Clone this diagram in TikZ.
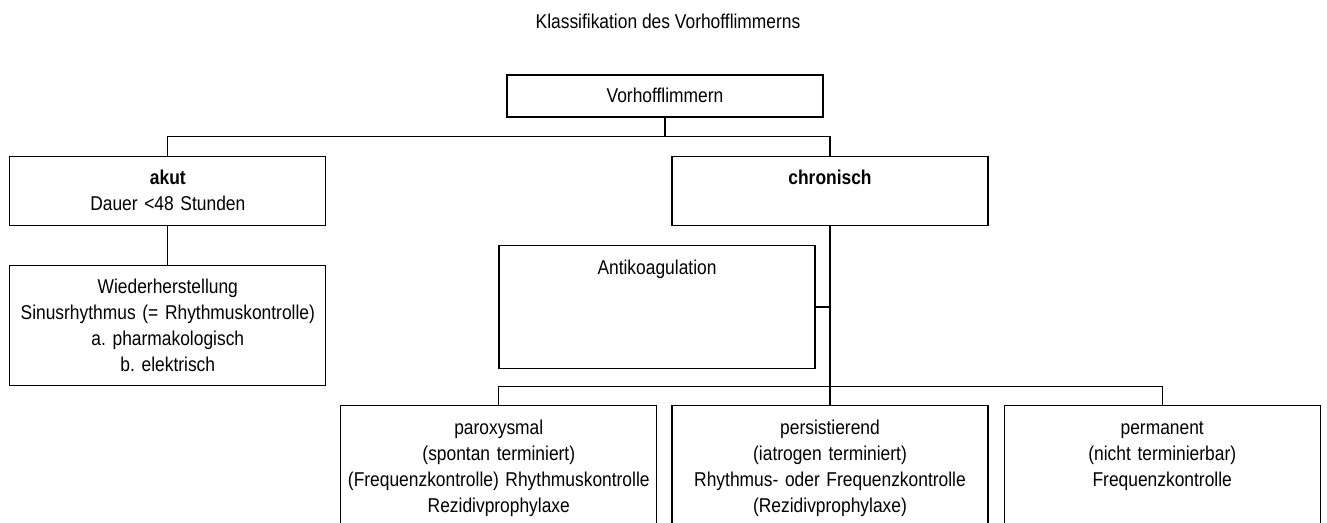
\documentclass[tikz,border=0pt]{standalone}
\usepackage{fontspec}
\setmainfont{Liberation Sans}[FakeStretch=0.87]
\usepackage{tikz}
\usetikzlibrary{positioning}
\frenchspacing
\tikzset{
    box/.style={rectangle, draw=black, line width=1.2pt, text centered, text width=312pt, inner xsep=2pt, inner ysep=0pt, text height=14pt, font=\fontsize{20pt}{26pt}\selectfont},
    link/.style={draw=black, line width=1.2pt},
    caption/.style={font=\fontsize{20pt}{26pt}\selectfont, anchor=base},
}
\begin{document}
\begin{tikzpicture}
        [node distance=19pt]
        \clip (0,0) rectangle (1327pt,-522pt);

        % Title and root of the classification
        \node[caption] (title) at (668pt,-28.5pt) {Klassifikation des Vorhofflimmerns};
        \node[box, minimum height=42pt] (root) at (665pt,-96pt) {Vorhofflimmern};

        % First level
        \node[box, minimum height=69pt, below left=38pt and 180pt of root] (akut) {\textbf{akut}\\ Dauer <48 Stunden};
        \node[box, minimum height=69pt, text depth=26pt, right=345pt of akut] (chronisch) {\textbf{chronisch}};

        % Below the first level
        \node[box, minimum height=120pt, below=39pt of akut] (wieder) {Wiederherstellung\\ Sinusrhythmus (= Rhythmuskontrolle)\\ a. pharmakologisch\\ b. elektrisch};
        \node[box, minimum height=123pt, text depth=79pt, below=19pt of chronisch, xshift=-173pt] (anti) {Antikoagulation};

        % Forms of the chronic type
        \node[box, minimum height=140pt, text depth=96pt, below=179pt of chronisch] (persist) {persistierend\\ (iatrogen terminiert)\\ Rhythmus- oder Frequenzkontrolle\\ (Rezidivprophylaxe)};
        \node[box, minimum height=140pt, text depth=96pt, left=14pt of persist] (parox) {paroxysmal\\ (spontan terminiert)\\ (Frequenzkontrolle) Rhythmuskontrolle\\ Rezidivprophylaxe};
        \node[box, minimum height=140pt, text depth=96pt, right=15pt of persist] (perm) {permanent\\ (nicht terminierbar)\\ Frequenzkontrolle};

        % Branch points
        \coordinate[below=of root] (split1);
        \coordinate[above=18pt of persist] (split2);

        % Lines
        \draw[link] (root) -- (split1);
        \draw[link] (akut.north) |- (split1) -| (chronisch.north);
        \draw[link] (akut) -- (wieder);
        \draw[link] (chronisch) -- (persist);
        \draw[link] (anti.east) -- (anti.east -| chronisch.south);
        \draw[link] (parox.north) |- (split2) -| (perm.north);

    \end{tikzpicture}
\end{document}
